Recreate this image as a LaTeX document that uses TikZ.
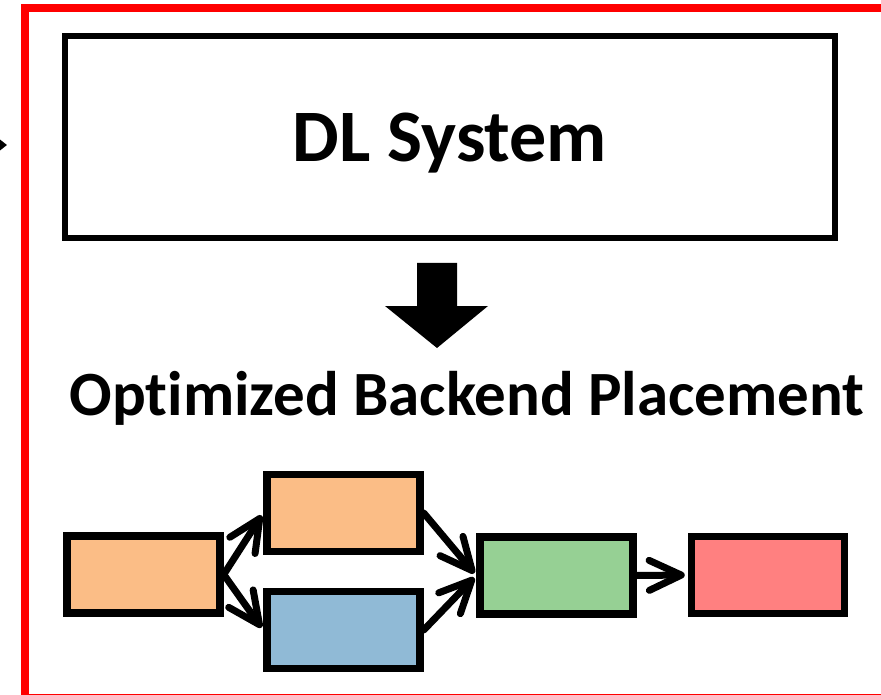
\documentclass[tikz,border=0pt]{standalone}
\usepackage{fontspec}
\setmainfont[Ligatures={NoCommon}]{Carlito}
\usetikzlibrary{calc, arrows.meta, positioning}

\definecolor{stageorange}{RGB}{251,189,134}
\definecolor{stageblue}{RGB}{144,186,214}
\definecolor{stagegreen}{RGB}{150,208,148}
\definecolor{stagered}{RGB}{255,128,128}

\begin{document}
\begin{tikzpicture}[x=1pt, y=-1pt,
  stage/.style={draw, line width=7.5pt, minimum width=153pt, minimum height=77pt, inner sep=0pt},
  flow/.style={line width=7pt, line cap=round, shorten >=3pt,
    -{Straight Barb[length=32pt, width=30pt, line cap=round, line join=round]}}]

\useasboundingbox (0,0) rectangle (881,695);
\clip (0,0) rectangle (881,695);

% frame round the whole system, cut by the page
\draw[red, line width=8pt] (25,8) rectangle (900,698);
\coordinate (feed) at (7,145);
\draw[line width=2pt, -{Triangle[length=8pt, width=12pt]}] (-40,145) -- (feed);

\node[draw, line width=6.5pt, minimum width=770pt, minimum height=202pt, text depth=0pt,
  font=\fontsize{74}{80}\selectfont\bfseries] (dl) at (450,137) {DL System};

% big arrow down
\fill (417,263) -- (457,263) -- (457,306) -- (488,306) -- (437,348) -- (385,306) -- (417,306) -- cycle;

\node[text depth=0pt, font=\fontsize{63}{70}\selectfont\bfseries] (title) at (467,393)
  {Optimized Backend Placement};

\node[stage, fill=stageorange] (b1) at (143.5,574.5) {};
\node[stage, fill=stageorange] (b2) at (343.5,513) {};
\node[stage, fill=stageblue]   (b3) at (343.5,630) {};
\node[stage, fill=stagegreen]  (b4) at (556.5,575.5) {};
\node[stage, fill=stagered]    (b5) at (768,575) {};

\foreach \a/\b in {b1/b2, b1/b3, b2/b4, b3/b4, b4/b5}
  \draw[flow] (\a.east) -- (\b.west);
\end{tikzpicture}
\end{document}
